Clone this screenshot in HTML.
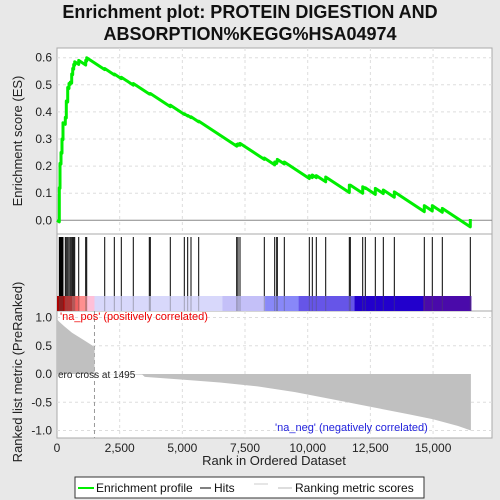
<!DOCTYPE html>
<html><head><meta charset="utf-8"><style>
body{margin:0;background:#e8e8e8;}
svg{display:block;font-family:"Liberation Sans",sans-serif;}
</style></head><body>
<svg id="c" width="500" height="500" viewBox="0 0 500 500">
<text x="250" y="18" text-anchor="middle" font-size="18" font-weight="bold" fill="#111">Enrichment plot: PROTEIN DIGESTION AND</text>
<text x="250" y="40" text-anchor="middle" font-size="18" font-weight="bold" fill="#111">ABSORPTION%KEGG%HSA04974</text>
<rect x="57" y="48" width="435" height="186" fill="#fff" stroke="#aaa"/>
<rect x="57" y="234" width="435" height="77" fill="#fff" stroke="#aaa"/>
<rect x="57" y="311" width="435" height="127" fill="#fff" stroke="#aaa"/>
<g id="grid"></g>
<g id="bar"></g>
<g id="hits"></g>
<g id="metric"></g>
<g id="es"></g>
<g id="axes" font-size="12" fill="#222"></g>
<text x="22" y="141" transform="rotate(-90 22 141)" text-anchor="middle" font-size="13" fill="#222">Enrichment score (ES)</text>
<text x="22" y="372" transform="rotate(-90 22 372)" text-anchor="middle" font-size="13" fill="#222">Ranked list metric (PreRanked)</text>
<text x="274" y="465" text-anchor="middle" font-size="13" fill="#222">Rank in Ordered Dataset</text>
<text x="60" y="320" font-size="11" fill="#e00">'na_pos' (positively correlated)</text>
<text x="275" y="431" font-size="11" fill="#22d">'na_neg' (negatively correlated)</text>
<text x="58" y="378" font-size="10" fill="#222">ero cross at 1495</text>
<g>
<rect x="75" y="477" width="349" height="21" fill="#fff" stroke="#333"/>
<line x1="78" y1="488" x2="94" y2="488" stroke="#0e0" stroke-width="2"/>
<text x="96" y="492" font-size="12" fill="#111">Enrichment profile</text>
<line x1="200" y1="488" x2="211" y2="488" stroke="#000"/>
<text x="214" y="492" font-size="12" fill="#111">Hits</text>
<line x1="254" y1="484" x2="268" y2="484" stroke="#ccc"/>
<line x1="278" y1="488" x2="292" y2="488" stroke="#bbb"/>
<text x="295" y="492" font-size="12" fill="#111">Ranking metric scores</text>
</g>
</svg>
<script>
const hitRanks=[92,120,160,199,239,331,371,427,479,531,586,626,666,706,866,1145,1185,1903,2286,2565,3043,3682,3722,4519,5078,5213,5345,5652,7168,7220,7300,8269,8684,8764,8788,9067,10064,10184,10343,10718,11660,11700,12194,12298,12697,13016,13455,14651,14970,15369,16486];
const esAfter=[0.12,0.21,0.25,0.30,0.36,0.38,0.44,0.49,0.505,0.51,0.54,0.56,0.575,0.585,0.59,0.59,0.60,0.56,0.54,0.528,0.505,0.468,0.468,0.425,0.393,0.387,0.382,0.366,0.28,0.282,0.284,0.23,0.215,0.218,0.225,0.215,0.165,0.167,0.165,0.16,0.13,0.13,0.124,0.12,0.118,0.112,0.105,0.054,0.054,0.044,0.005];
const missStep=0.000061;
const metricRanks=[0,100,300,600,1000,1495,1496,3400,3500,5000,6500,8000,9500,11000,12500,14000,15000,16000,16510];
const metricVals=[0.97,0.92,0.84,0.73,0.62,0.48,0,-0.01,-0.05,-0.1,-0.15,-0.22,-0.32,-0.45,-0.58,-0.71,-0.8,-0.92,-1.0];
const xTicks=[0,2500,5000,7500,10000,12500,15000];
const xTickLabels=["0","2,500","5,000","7,500","10,000","12,500","15,000"];
const esTicks=[0,0.1,0.2,0.3,0.4,0.5,0.6];
const mTicks=[1,0.5,0,-0.5,-1];
const mTickLabels=["1.0","0.5","0.0","-0.5","-1.0"];
const nRanks=16510;
const NS="http://www.w3.org/2000/svg";
const X=r=>57+r*0.02507;
const YE=v=>220.3-v*271;
const YM=v=>374-v*56.5;
function mk(tag,attrs,parent){const e=document.createElementNS(NS,tag);for(const k in attrs)e.setAttribute(k,attrs[k]);document.getElementById(parent).appendChild(e);return e;}
xTicks.forEach((t,i)=>{if(i===0)return;
 let g=mk('line',{x1:X(t),x2:X(t),y1:48,y2:234,stroke:'#ddd','stroke-dasharray':'3,3'},'grid');
 
 let g2=mk('line',{x1:X(t),x2:X(t),y1:311,y2:438,stroke:'#ddd','stroke-dasharray':'3,3'},'grid');
 });
esTicks.forEach(t=>{if(t===0)return;
 let g=mk('line',{x1:57,x2:492,y1:YE(t),y2:YE(t),stroke:'#ddd','stroke-dasharray':'3,3'},'grid');
 });
mTicks.forEach(t=>{if(t===0)return;
 let g=mk('line',{x1:57,x2:492,y1:YM(t),y2:YM(t),stroke:'#ddd','stroke-dasharray':'3,3'},'grid');
 });
let z=mk('line',{x1:57,x2:492,y1:YE(0),y2:YE(0),stroke:'#888'},'grid');

let zc=mk('line',{x1:X(1495),x2:X(1495),y1:311,y2:438,stroke:'#999','stroke-dasharray':'4,3'},'grid');

const barSegs=[[0,300,'#b00000'],[300,600,'#d83030'],[600,900,'#f06060'],[900,1200,'#ff9090'],[1200,1495,'#ffc0d8'],[1495,6600,'#d8d8fb'],[6600,8300,'#c4c0f8'],[8300,9640,'#8888f8'],[9640,11870,'#6655e8'],[11870,14600,'#2200cc'],[14600,16510,'#4a0aaa']];
barSegs.forEach(s=>{let r=mk('rect',{x:X(s[0]),y:296,width:X(s[1])-X(s[0])+0.5,height:15,fill:s[2]},'bar');
 });
hitRanks.forEach(r=>{let l=mk('line',{x1:X(r),x2:X(r),y1:237,y2:296,stroke:'#000','stroke-width':1},'hits');
 
 let l2=mk('line',{x1:X(r),x2:X(r),y1:296,y2:311,stroke:'rgba(80,80,80,0.4)'},'hits');
 });
let pts=[[X(0),YM(0)]];
for(let i=0;i<metricRanks.length;i++){pts.push([X(metricRanks[i]),YM(metricVals[i])]);}
pts.push([X(nRanks),YM(0)]);
let ma=mk('polygon',{points:pts.map(p=>p.join(',')).join(' '),fill:'#c0c0c0'},'metric');

let ep=[[X(0),YE(0)]];let prevR=0,prevV=0;
hitRanks.forEach((r,i)=>{const pre=prevV-missStep*(r-prevR);ep.push([X(r),YE(pre)]);ep.push([X(r),YE(esAfter[i])]);prevR=r;prevV=esAfter[i];});
let el=mk('polyline',{points:ep.map(p=>p.join(',')).join(' '),fill:'none',stroke:'#00ee00','stroke-width':3,'stroke-linejoin':'round'},'es');

esTicks.forEach(t=>{let tx=mk('text',{x:52,y:YE(t)+4,'text-anchor':'end'},'axes');tx.textContent=t.toFixed(1);
 });
mTicks.forEach((t,i)=>{let tx=mk('text',{x:52,y:YM(t)+4,'text-anchor':'end'},'axes');tx.textContent=mTickLabels[i];
 });
xTicks.forEach((t,i)=>{let tx=mk('text',{x:X(t),y:452,'text-anchor':'middle'},'axes');tx.textContent=xTickLabels[i];
 });
</script>
</body></html>
